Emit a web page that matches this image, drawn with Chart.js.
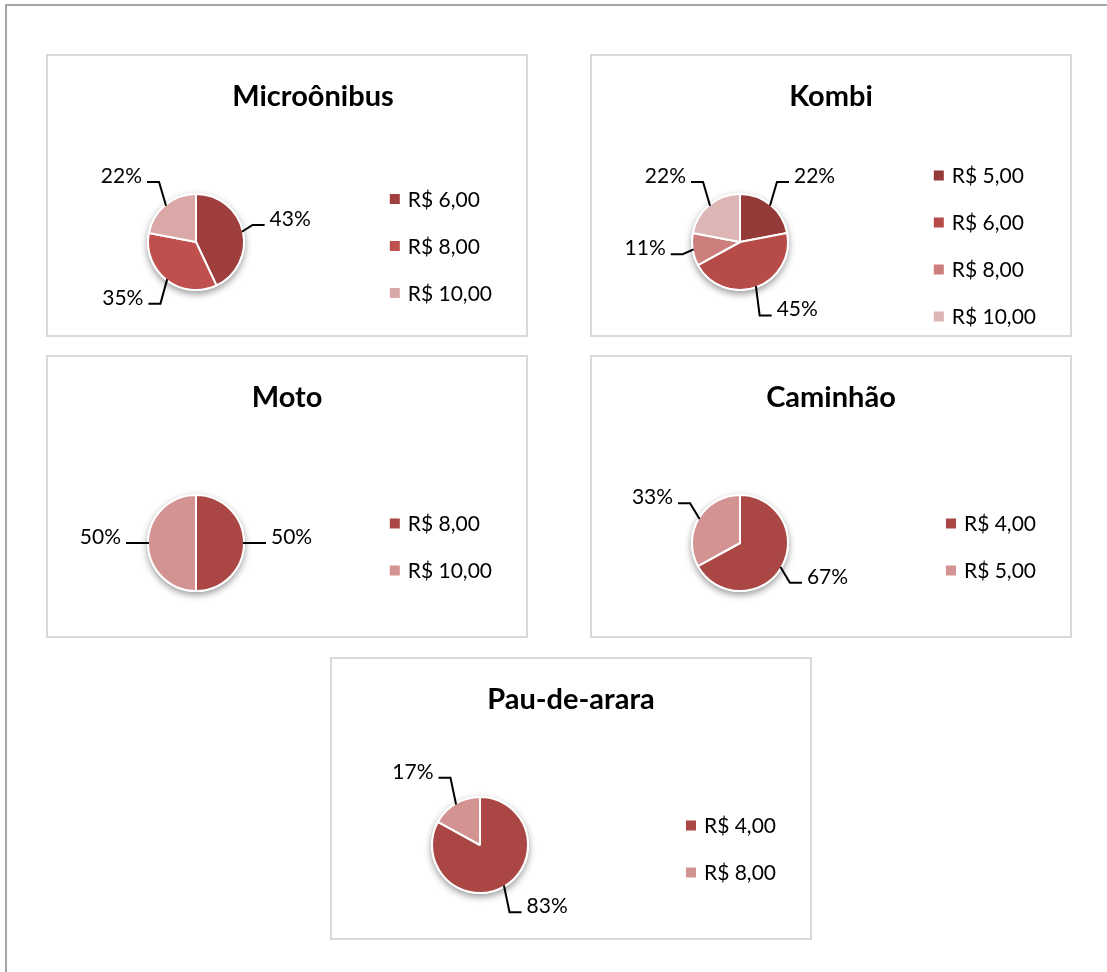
<!DOCTYPE html>
<html>
<head>
<meta charset="utf-8">
<script src="https://cdn.jsdelivr.net/npm/chart.js@4.4.0/dist/chart.umd.min.js"></script>
<style>
  body { margin: 0; background: #fff; width: 1107px; height: 972px; overflow: hidden; position: relative; }
  #frame { position: absolute; left: 5px; top: 4px; width: 1120px; height: 990px;
           border-top: 2px solid #a6a6a6; border-left: 2px solid #a6a6a6; }
  .panel { position: absolute; width: 482px; height: 283px; box-sizing: border-box;
           border: 2px solid #d9d9d9; background: #fff; }
  .panel canvas { display: block; }
</style>
</head>
<body>
<div id="frame"></div>
<div class="panel" style="left:46px;top:54px"><canvas id="micro" width="478" height="279"></canvas></div>
<div class="panel" style="left:590px;top:54px"><canvas id="kombi" width="478" height="279"></canvas></div>
<div class="panel" style="left:46px;top:355px"><canvas id="moto" width="478" height="279"></canvas></div>
<div class="panel" style="left:590px;top:355px"><canvas id="caminhao" width="478" height="279"></canvas></div>
<div class="panel" style="left:330px;top:657px"><canvas id="pau" width="478" height="279"></canvas></div>

<script>
// valores (%)
const microLabels = ['R$ 6,00', 'R$ 8,00', 'R$ 10,00'];
const microValues = [43, 35, 22];

const kombiLabels = ['R$ 5,00', 'R$ 6,00', 'R$ 8,00', 'R$ 10,00'];
const kombiValues = [22, 45, 11, 22];

const motoLabels = ['R$ 8,00', 'R$ 10,00'];
const motoValues = [50, 50];

const caminhaoLabels = ['R$ 4,00', 'R$ 5,00'];
const caminhaoValues = [67, 33];

const pauLabels = ['R$ 4,00', 'R$ 8,00'];
const pauValues = [83, 17];

// cores
const threeColors = ['#9e3f3e', '#c0504d', '#d9a8a7'];
const fourColors = ['#943a38', '#b64b48', '#cc7e7c', '#ddb5b4'];
const twoColors = ['#aa4744', '#d39392'];

const FONT = 'Lato, "Open Sans", sans-serif';

const panelTitle = {
  id: 'panelTitle',
  afterDraw(chart, args, opts) {
    const ctx = chart.ctx;
    ctx.save();
    ctx.font = 'bold 29px ' + FONT;
    ctx.fillStyle = '#000';
    ctx.textAlign = 'center';
    ctx.textBaseline = 'alphabetic';
    ctx.fillText(opts.text, chart.width / 2 + (opts.shift || 0), 50);
    ctx.restore();
  }
};

const pieShadow = {
  id: 'pieShadow',
  beforeDatasetsDraw(chart) {
    const arc = chart.getDatasetMeta(0).data[0];
    const ctx = chart.ctx;
    ctx.save();
    ctx.shadowColor = 'rgba(0,0,0,0.4)';
    ctx.shadowBlur = 7;
    ctx.shadowOffsetY = 3;
    ctx.fillStyle = '#fff';
    ctx.beginPath();
    ctx.arc(arc.x, arc.y, arc.outerRadius + 1, 0, Math.PI * 2);
    ctx.fill();
    ctx.restore();
  }
};

// rótulos de % com linha de chamada
const leaderLabels = {
  id: 'leaderLabels',
  afterDatasetsDraw(chart) {
    const ctx = chart.ctx;
    const values = chart.data.datasets[0].data;
    ctx.save();
    ctx.font = '21px ' + FONT;
    ctx.fillStyle = '#000';
    ctx.strokeStyle = '#000';
    ctx.lineWidth = 2;
    ctx.textBaseline = 'alphabetic';
    chart.getDatasetMeta(0).data.forEach((arc, i) => {
      const mid = (arc.startAngle + arc.endAngle) / 2;
      const dx = Math.cos(mid), dy = Math.sin(mid);
      const r = arc.outerRadius;
      const side = dx >= 0 ? 1 : -1;
      const px = arc.x + dx * (r - 1), py = arc.y + dy * (r - 1);
      const ex = arc.x + dx * (r + 10), ey = arc.y + dy * (r + 30);
      const hx = ex + side * 12;
      ctx.beginPath();
      ctx.moveTo(px, py);
      ctx.lineTo(ex, ey);
      ctx.lineTo(hx, ey);
      ctx.stroke();
      ctx.textAlign = side > 0 ? 'left' : 'right';
      ctx.fillText(values[i] + '%', hx + side * 5, ey + 1);
    });
    ctx.restore();
  }
};

const sideLegend = {
  id: 'sideLegend',
  afterDraw(chart) {
    const ctx = chart.ctx;
    const labels = chart.data.labels;
    const colors = chart.data.datasets[0].backgroundColor;
    ctx.save();
    ctx.font = '21px ' + FONT;
    ctx.textAlign = 'left';
    ctx.textBaseline = 'alphabetic';
    const maxW = Math.max(...labels.map(t => ctx.measureText(t).width));
    const x0 = 444 - maxW - 18;
    const step = 47;
    const y0 = 190 - (labels.length - 1) * step / 2;
    labels.forEach((t, i) => {
      const y = y0 + i * step;
      ctx.fillStyle = colors[i];
      ctx.fillRect(x0, y - 5, 10, 10);
      ctx.fillStyle = '#000';
      ctx.fillText(t, x0 + 18, y + 7.5);
    });
    ctx.restore();
  }
};

function makePie(id, title, shift, labels, values, colors) {
  new Chart(document.getElementById(id), {
    type: 'pie',
    data: {
      labels: labels,
      datasets: [{
        data: values,
        backgroundColor: colors,
        borderColor: '#fff',
        borderWidth: 2,
        hoverOffset: 0,
        radius: 48
      }]
    },
    options: {
      responsive: false,
      animation: false,
      devicePixelRatio: 1,
      events: [],
      layout: { padding: { left: 0, right: 182, top: 100, bottom: 7 } },
      plugins: {
        legend: { display: false },
        tooltip: { enabled: false },
        panelTitle: { text: title, shift: shift }
      }
    },
    plugins: [pieShadow, leaderLabels, sideLegend, panelTitle]
  });
}

makePie('micro', 'Microônibus', 26, microLabels, microValues, threeColors);
makePie('kombi', 'Kombi', 0, kombiLabels, kombiValues, fourColors);
makePie('moto', 'Moto', 0, motoLabels, motoValues, twoColors);
makePie('caminhao', 'Caminhão', 0, caminhaoLabels, caminhaoValues, twoColors);
makePie('pau', 'Pau-de-arara', 0, pauLabels, pauValues, twoColors);
</script>
</body>
</html>
